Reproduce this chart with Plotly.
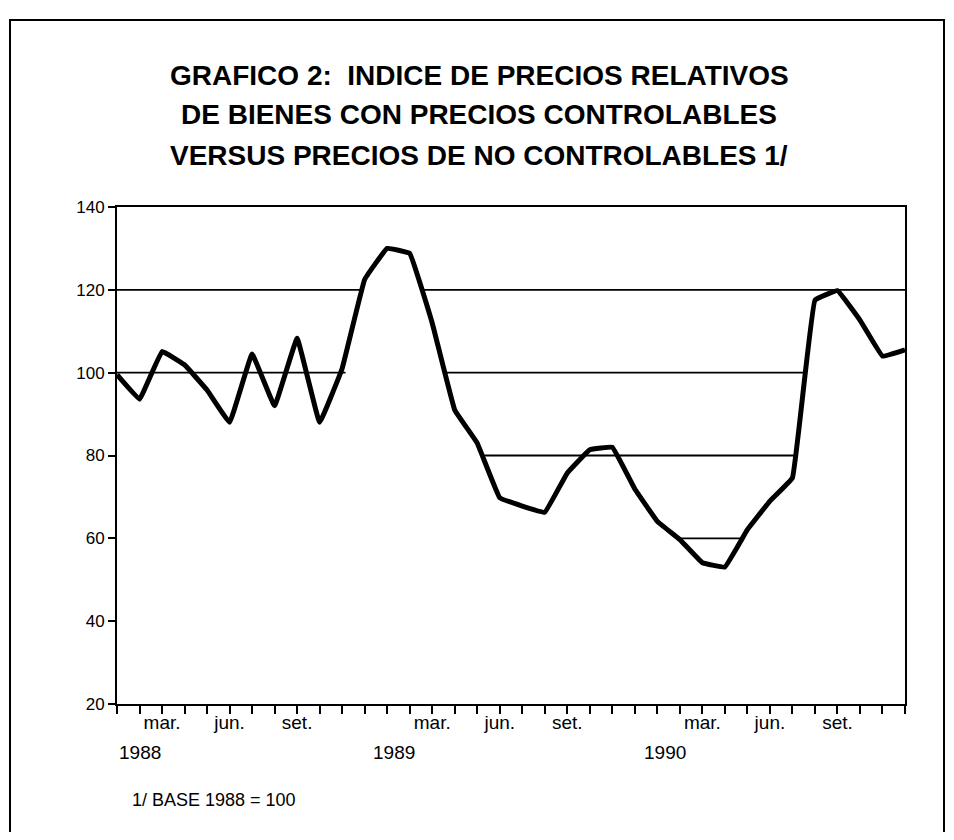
import plotly.graph_objects as go

# ---- data (monthly, Jan 1988 .. Dec 1990) ----
months = [f"{m} {y}" for y in (1988, 1989, 1990)
          for m in ("ene", "feb", "mar", "abr", "may", "jun",
                    "jul", "ago", "set", "oct", "nov", "dic")]
index_values = [
    99.5, 93.6, 105.1, 101.9, 95.8, 88.0, 104.5, 92.0, 108.3, 88.0, 101.0, 122.5,
    130.0, 128.8, 112.0, 91.0, 83.0, 69.8, 67.8, 66.3, 75.8, 81.4, 82.0, 71.9,
    64.1, 59.7, 54.1, 53.1, 62.1, 69.0, 74.6, 117.5, 119.8, 112.7, 104.0, 105.5,
]
month_labels = ["", "", "mar.", "", "", "jun.", "", "", "set.", "", "", ""] * 3
years = ["1988", "1989", "1990"]
y_ticks = [20, 40, 60, 80, 100, 120, 140]

# reference levels and the month spans where they are drawn
ref_levels = [120, 120, 100, 100, 80, 60]
ref_starts = [0, 13.5, 0, 14.55, 16.25, 25.0]
ref_ends = [10.9, 35, 10.15, 30.55, 30.1, 27.7]

title_lines = ["GRAFICO 2:  INDICE DE PRECIOS RELATIVOS",
               "DE BIENES CON PRECIOS CONTROLABLES",
               "VERSUS PRECIOS DE NO CONTROLABLES 1/"]
footnote = "1/ BASE 1988 = 100"

x_idx = list(range(len(months)))
FONT = "Liberation Sans, Arial, Helvetica, sans-serif"
TFONT = "Liberation Sans, Arial, Helvetica, sans-serif"

# page body has an 8px default margin; plot area should sit at 117..905 x 207..704
OFF = 8
FW, FH = 954 - 2 * OFF, 840 - 2 * OFF
L, R, T, B = 117, 905, 207, 704
W, H = R - L, B - T

fig = go.Figure()

for lvl, s, e in zip(ref_levels, ref_starts, ref_ends):
    fig.add_trace(go.Scatter(x=[s, e], y=[lvl, lvl], mode="lines",
                             line=dict(color="black", width=1.8),
                             hoverinfo="skip", showlegend=False))

fig.add_trace(go.Scatter(x=x_idx, y=index_values, mode="lines",
                         text=months, hovertemplate="%{text}: %{y}<extra></extra>",
                         line=dict(color="black", width=5, shape="spline", smoothing=0.2),
                         showlegend=False))

fig.update_xaxes(range=[0, 35], tickvals=x_idx, ticktext=month_labels,
                 ticks="outside", ticklen=8, tickwidth=2, tickcolor="black",
                 ticklabelstandoff=-8,
                 showline=True, linewidth=2, linecolor="black", mirror=True,
                 showgrid=False, zeroline=False,
                 tickfont=dict(family=FONT, size=19, color="black"))
fig.update_yaxes(range=[20, 140], tickvals=y_ticks,
                 ticks="outside", ticklen=7, tickwidth=2, tickcolor="black",
                 showline=True, linewidth=2, linecolor="black", mirror=True,
                 showgrid=False, zeroline=False,
                 tickfont=dict(family=FONT, size=17, color="black"))

annotations = []
for k, t in enumerate(title_lines):
    annotations.append(dict(text=f"<b>{t}</b>", xref="paper", yref="paper",
                            x=(479 - L) / W, y=(B - (75 + 40 * k)) / H,
                            showarrow=False, xanchor="center", yanchor="middle",
                            font=dict(family=TFONT, size=28, color="black")))
year_offsets = [0, -0.7, -0.7]
for k, yr in enumerate(years):
    annotations.append(dict(text=yr, xref="x", yref="paper",
                            x=12 * k + year_offsets[k], y=(B - 752) / H,
                            showarrow=False, xanchor="left", yanchor="middle",
                            font=dict(family=FONT, size=19, color="black")))
annotations.append(dict(text=footnote, xref="paper", yref="paper",
                        x=(130 - L) / W, y=(B - 800) / H,
                        showarrow=False, xanchor="left", yanchor="middle",
                        font=dict(family=FONT, size=18, color="black")))

# outer page frame (kept inside the drawable area)
fig.add_shape(type="rect", xref="paper", yref="paper",
              x0=(10 - L) / W, x1=(944 - L) / W,
              y0=(B - 880) / H, y1=(B - 20) / H,
              line=dict(color="black", width=2))

fig.update_layout(width=FW, height=FH,
                  margin=dict(l=L - OFF, r=FW - (R - OFF), t=T - OFF, b=FH - (B - OFF)),
                  paper_bgcolor="white", plot_bgcolor="white",
                  annotations=annotations, showlegend=False)

fig.write_html("out.html")
